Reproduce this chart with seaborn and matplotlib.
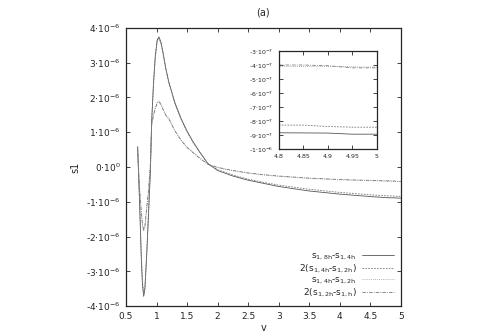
import numpy as np
import pandas as pd
import matplotlib
matplotlib.use("Agg")
import matplotlib.pyplot as plt
import seaborn as sns

sns.set_style("ticks")
plt.rcParams.update({"font.family": ["DejaVu Sans"], "font.size": 7,
                     "mathtext.default": "regular"})

SCALE = 1e-6

v = [0.69, 0.72, 0.75, 0.77, 0.79, 0.81, 0.84, 0.87, 0.9, 0.92, 0.95, 0.98,
     1.01, 1.04, 1.07, 1.1, 1.15, 1.2, 1.3, 1.4, 1.5, 1.6, 1.7, 1.84, 2.0,
     2.25, 2.5, 2.75, 3.0, 3.5, 4.0, 4.5, 4.8, 4.85, 4.9, 4.95, 5.0]

# values in units of 1e-6
s8h_4h = [0.58, -0.9, -2.6, -3.4, -3.72, -3.5, -2.5, -1.3, -0.1, 1.3, 2.4, 3.2,
          3.65, 3.74, 3.6, 3.35, 2.85, 2.45, 1.85, 1.4, 1.03, 0.72, 0.45, 0.1, -0.1,
          -0.26, -0.38, -0.47, -0.56, -0.69, -0.78, -0.85, -0.885, -0.886, -0.887, -0.895, -0.895]
s4h_2h_x2 = [0.58, -0.85, -2.5, -3.3, -3.65, -3.45, -2.45, -1.25, -0.05, 1.3, 2.35, 3.15,
             3.6, 3.7, 3.57, 3.33, 2.83, 2.43, 1.83, 1.38, 1.01, 0.7, 0.44, 0.1, -0.08,
             -0.23, -0.35, -0.44, -0.52, -0.64, -0.73, -0.8, -0.83, -0.83, -0.84, -0.845, -0.845]
s4h_2h = [0.58, -0.6, -1.3, -1.7, -1.85, -1.75, -1.2, -0.7, 0.1, 1.2, 1.5, 1.7,
          1.86, 1.9, 1.82, 1.7, 1.5, 1.4, 1.05, 0.78, 0.57, 0.42, 0.27, 0.08, -0.02,
          -0.11, -0.18, -0.23, -0.27, -0.33, -0.37, -0.395, -0.41, -0.41, -0.41, -0.412, -0.415]
s2h_h_x2 = [0.58, -0.55, -1.25, -1.65, -1.8, -1.7, -1.15, -0.65, 0.12, 1.2, 1.48, 1.68,
            1.84, 1.88, 1.8, 1.68, 1.49, 1.39, 1.04, 0.77, 0.56, 0.41, 0.26, 0.08, -0.01,
            -0.1, -0.17, -0.22, -0.26, -0.32, -0.36, -0.385, -0.4, -0.4, -0.405, -0.42, -0.42]

labels = [r"$s_{1,8h}$-$s_{1,4h}$", r"2($s_{1,4h}$-$s_{1,2h}$)",
          r"$s_{1,4h}$-$s_{1,2h}$", r"2($s_{1,2h}$-$s_{1,h}$)"]
series = [s8h_4h, s4h_2h_x2, s4h_2h, s2h_h_x2]
dashes = [(None, None), (2, 1.5), (1, 1.5), (4, 1.5, 1, 1.5)]
colors = ["#555555", "#777777", "#999999", "#777777"]

x_ticks = [0.5, 1, 1.5, 2, 2.5, 3, 3.5, 4, 4.5, 5]
x_tick_labels = ["0.5", "1", "1.5", "2", "2.5", "3", "3.5", "4", "4.5", "5"]
y_ticks = [-4, -3, -2, -1, 0, 1, 2, 3, 4]
y_tick_labels = [r"-4$\cdot$10$^{-6}$", r"-3$\cdot$10$^{-6}$", r"-2$\cdot$10$^{-6}$",
                 r"-1$\cdot$10$^{-6}$", r"0$\cdot$10$^{0}$", r"1$\cdot$10$^{-6}$",
                 r"2$\cdot$10$^{-6}$", r"3$\cdot$10$^{-6}$", r"4$\cdot$10$^{-6}$"]

in_x_ticks = [4.8, 4.85, 4.9, 4.95, 5]
in_x_tick_labels = ["4.8", "4.85", "4.9", "4.95", "5"]
in_y_ticks = [-1.0, -0.9, -0.8, -0.7, -0.6, -0.5, -0.4, -0.3]
in_y_tick_labels = [r"-1$\cdot$10$^{-6}$", r"-9$\cdot$10$^{-7}$", r"-8$\cdot$10$^{-7}$",
                    r"-7$\cdot$10$^{-7}$", r"-6$\cdot$10$^{-7}$", r"-5$\cdot$10$^{-7}$",
                    r"-4$\cdot$10$^{-7}$", r"-3$\cdot$10$^{-7}$"]

rows = []
for lab, vals in zip(labels, series):
    for xv, yv in zip(v, vals):
        rows.append({"v": xv, "s1": yv * SCALE, "curve": lab})
df = pd.DataFrame(rows)

fig = plt.figure(figsize=(4.8, 3.36), dpi=100)
ax = fig.add_axes([0.2625, 0.089, 0.5725, 0.828])
sns.lineplot(data=df, x="v", y="s1", hue="curve", style="curve",
             palette=colors, dashes=dashes, linewidth=0.6, ax=ax, sort=False)

ax.set_xlim(0.5, 5)
ax.set_ylim(-4 * SCALE, 4 * SCALE)
ax.set_xticks(x_ticks)
ax.set_xticklabels(x_tick_labels)
ax.set_yticks([t * SCALE for t in y_ticks])
ax.set_yticklabels(y_tick_labels)
ax.tick_params(direction="in", top=True, right=True, length=3, width=0.6,
               labelsize=6.5, pad=4)
for s in ax.spines.values():
    s.set_linewidth(0.9)
ax.set_xlabel("v", fontsize=7, labelpad=2)
ax.set_ylabel("s1", fontsize=7, labelpad=4)
ax.set_title("(a)", fontsize=7, pad=9)

leg = ax.legend(loc="lower right", frameon=False, markerfirst=False,
                fontsize=6.5, handlelength=3.5, labelspacing=0.05,
                handletextpad=0.6, borderaxespad=0.4)
for t in leg.get_texts():
    t.set_ha("right")

# inset
ins = fig.add_axes([0.581, 0.557, 0.204, 0.291])
sns.lineplot(data=df, x="v", y="s1", hue="curve", style="curve",
             palette=colors, dashes=dashes, linewidth=0.6, ax=ins,
             legend=False, sort=False)
ins.set_xlim(4.8, 5)
ins.set_ylim(-1e-6, -3e-7)
ins.set_xticks(in_x_ticks)
ins.set_xticklabels(in_x_tick_labels)
ins.set_yticks([t * SCALE for t in in_y_ticks])
ins.set_yticklabels(in_y_tick_labels)
ins.tick_params(direction="in", top=True, right=True, length=3, width=0.6,
                labelsize=4.5, pad=4)
for s in ins.spines.values():
    s.set_linewidth(0.9)
ins.set_xlabel("")
ins.set_ylabel("")

fig.savefig("out.png", dpi=100)
